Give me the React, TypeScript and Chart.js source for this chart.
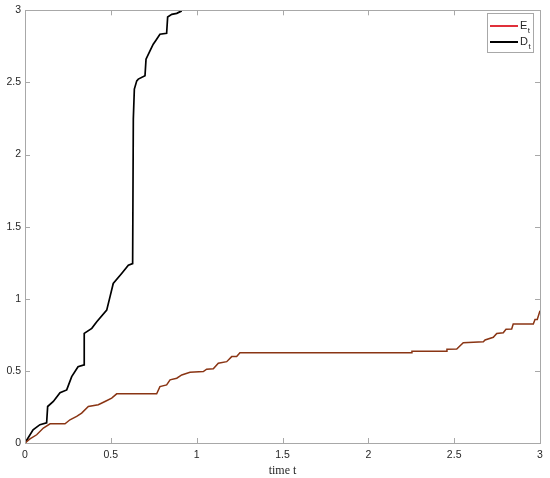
import React, { useEffect, useRef } from "react";
import { Chart, registerables } from "chart.js";

Chart.register(...registerables);

const xTicks = [0, 0.5, 1, 1.5, 2, 2.5, 3];
const yTicks = [0, 0.5, 1, 1.5, 2, 2.5, 3];
const xLabel = "time t";

const seriesLabels = ["E_t", "D_t"];
const seriesColors = ["#8a3514", "#000000"];
const legendColors = ["#e0303a", "#000000"];

const etX = [0, 0.029, 0.068, 0.107, 0.146, 0.233, 0.262, 0.301, 0.33, 0.369, 0.427, 0.466, 0.505, 0.534, 0.767, 0.786, 0.825, 0.845, 0.884, 0.913, 0.961, 1.039, 1.058, 1.097, 1.126, 1.175, 1.204, 1.233, 1.252, 2.253, 2.254, 2.456, 2.458, 2.515, 2.553, 2.67, 2.68, 2.728, 2.748, 2.786, 2.802, 2.835, 2.844, 2.961, 2.971, 2.984, 3.0];
const etY = [0, 0.028, 0.057, 0.104, 0.133, 0.133, 0.161, 0.184, 0.207, 0.253, 0.265, 0.288, 0.311, 0.341, 0.341, 0.391, 0.403, 0.438, 0.449, 0.472, 0.491, 0.495, 0.512, 0.514, 0.553, 0.564, 0.599, 0.599, 0.626, 0.626, 0.636, 0.636, 0.65, 0.652, 0.695, 0.702, 0.714, 0.733, 0.76, 0.764, 0.788, 0.79, 0.825, 0.825, 0.857, 0.857, 0.917];

const dtX = [0, 0.047, 0.087, 0.126, 0.132, 0.165, 0.204, 0.243, 0.272, 0.309, 0.344, 0.345, 0.389, 0.418, 0.476, 0.495, 0.514, 0.563, 0.602, 0.627, 0.631, 0.637, 0.651, 0.66, 0.699, 0.705, 0.728, 0.747, 0.763, 0.786, 0.825, 0.831, 0.855, 0.884, 0.913];
const dtY = [0, 0.092, 0.127, 0.14, 0.253, 0.288, 0.348, 0.368, 0.46, 0.529, 0.541, 0.76, 0.795, 0.841, 0.921, 1.013, 1.106, 1.175, 1.232, 1.244, 2.246, 2.454, 2.511, 2.523, 2.546, 2.661, 2.719, 2.765, 2.793, 2.834, 2.841, 2.954, 2.972, 2.979, 2.996];

const AXIS_COLOR = "#a8a8a8";
const TEXT_COLOR = "#262626";

const boxPlugin = {
  id: "matlabBox",
  afterDraw(chart: any) {
    const { ctx, chartArea: a, scales } = chart;
    const xs = scales.x;
    const ys = scales.y;
    ctx.save();
    ctx.strokeStyle = AXIS_COLOR;
    ctx.lineWidth = 1;
    ctx.strokeRect(Math.round(a.left) + 0.5, Math.round(a.top) + 0.5, Math.round(a.right - a.left), Math.round(a.bottom - a.top));
    const tl = 5;
    ctx.beginPath();
    xTicks.forEach((v) => {
      const px = Math.round(xs.getPixelForValue(v)) + 0.5;
      ctx.moveTo(px, a.bottom);
      ctx.lineTo(px, a.bottom - tl);
      ctx.moveTo(px, a.top);
      ctx.lineTo(px, a.top + tl);
    });
    yTicks.forEach((v) => {
      const py = Math.round(ys.getPixelForValue(v)) + 0.5;
      ctx.moveTo(a.left, py);
      ctx.lineTo(a.left + tl, py);
      ctx.moveTo(a.right, py);
      ctx.lineTo(a.right - tl, py);
    });
    ctx.stroke();

    // legend
    const lx = 487, ly = 13, lw = 46, lh = 39;
    ctx.fillStyle = "#ffffff";
    ctx.fillRect(lx, ly, lw, lh);
    ctx.strokeStyle = AXIS_COLOR;
    ctx.strokeRect(lx + 0.5, ly + 0.5, lw, lh);
    chart.data.datasets.forEach((ds: any, i: number) => {
      const y = ly + 13 + i * 16;
      ctx.strokeStyle = legendColors[i];
      ctx.lineWidth = 2;
      ctx.beginPath();
      ctx.moveTo(lx + 3, y);
      ctx.lineTo(lx + 31, y);
      ctx.stroke();
      const [main, sub] = String(ds.label).split("_");
      ctx.fillStyle = TEXT_COLOR;
      ctx.textBaseline = "middle";
      ctx.textAlign = "left";
      ctx.font = "11px 'Liberation Sans', Arial, sans-serif";
      ctx.fillText(main, lx + 33, y);
      const w = ctx.measureText(main).width;
      if (sub) {
        ctx.font = "8px 'Liberation Sans', Arial, sans-serif";
        ctx.fillText(sub, lx + 33 + w + 0.5, y + 5);
      }
    });
    ctx.restore();
  },
};

const fmt = (v: any) => String(Number(v));

export default function App() {
  const ref = useRef<HTMLCanvasElement>(null);
  useEffect(() => {
    document.body.style.margin = "0";
    const canvas = ref.current!;
    const chart = new Chart(canvas, {
      type: "scatter",
      data: {
        datasets: [
          {
            label: seriesLabels[0],
            data: etX.map((x, i) => ({ x, y: etY[i] })),
            showLine: true,
            borderColor: seriesColors[0],
            backgroundColor: seriesColors[0],
            borderWidth: 1.5,
            pointRadius: 0,
            tension: 0,
          },
          {
            label: seriesLabels[1],
            data: dtX.map((x, i) => ({ x, y: dtY[i] })),
            showLine: true,
            borderColor: seriesColors[1],
            backgroundColor: seriesColors[1],
            borderWidth: 1.7,
            pointRadius: 0,
            tension: 0,
          },
        ],
      },
      options: {
        responsive: false,
        animation: false,
        devicePixelRatio: 1,
        layout: { padding: { top: 9, right: 10, left: 0, bottom: 0 } },
        plugins: { legend: { display: false }, tooltip: { enabled: false } },
        scales: {
          x: {
            type: "linear",
            min: 0,
            max: 3,
            afterBuildTicks: (s: any) => { s.ticks = xTicks.map((v) => ({ value: v })); },
            afterFit: (s: any) => { s.height = 35; },
            grid: { display: false, drawTicks: false },
            border: { display: false },
            ticks: {
              padding: 6,
              color: TEXT_COLOR,
              font: { family: "'Liberation Sans', Arial, sans-serif", size: 10.5 },
              maxRotation: 0,
              callback: fmt,
            },
            title: {
              display: true,
              text: xLabel,
              color: TEXT_COLOR,
              font: { family: "'Liberation Serif', 'Times New Roman', serif", size: 12 },
              padding: { top: 0, bottom: 0 },
            },
          },
          y: {
            type: "linear",
            min: 0,
            max: 3,
            afterBuildTicks: (s: any) => { s.ticks = yTicks.map((v) => ({ value: v })); },
            afterFit: (s: any) => { s.width = 25; },
            grid: { display: false, drawTicks: false },
            border: { display: false },
            ticks: {
              padding: 4,
              color: TEXT_COLOR,
              font: { family: "'Liberation Sans', Arial, sans-serif", size: 10.5 },
              callback: fmt,
            },
          },
        },
      },
      plugins: [boxPlugin],
    });
    return () => chart.destroy();
  }, []);
  return <canvas ref={ref} width={550} height={478} style={{ display: "block" }} />;
}
